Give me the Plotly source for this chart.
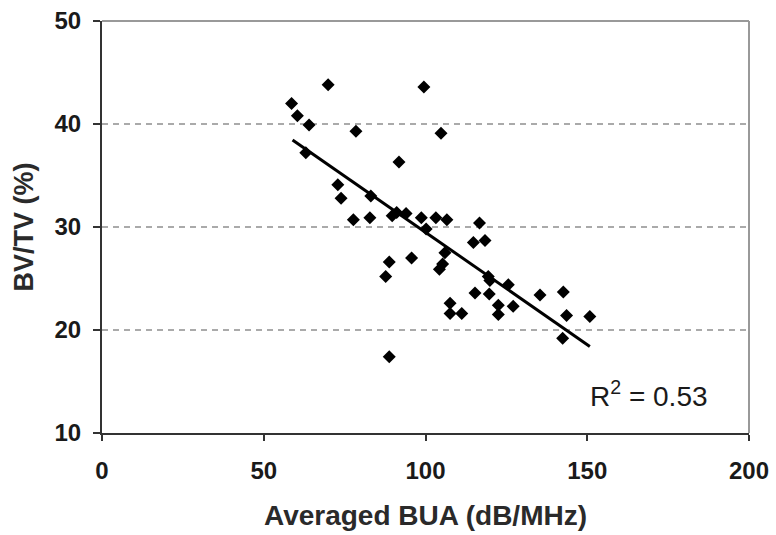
import plotly.graph_objects as go

# Data
bua = [58.6, 60.4, 64.0, 69.9, 63.0, 78.5, 72.9, 73.9, 77.7, 82.8,
       83.1, 91.8, 89.7, 91.1, 94.0, 98.7, 103.2, 106.6, 100.2, 99.5,
       104.8, 116.7, 114.8, 118.4, 106.0, 105.3, 104.3, 88.8, 95.7, 87.7,
       119.4, 119.9, 125.6, 115.3, 119.7, 135.4, 142.6, 107.6, 107.6, 111.2,
       122.5, 122.5, 127.1, 143.6, 150.8, 142.4, 88.8]
bvtv = [42.0, 40.8, 39.9, 43.8, 37.2, 39.3, 34.1, 32.8, 30.7, 30.9,
        33.0, 36.3, 31.1, 31.4, 31.3, 30.9, 30.9, 30.7, 29.8, 43.6,
        39.1, 30.4, 28.5, 28.7, 27.5, 26.4, 25.9, 26.6, 27.0, 25.2,
        25.2, 24.8, 24.4, 23.6, 23.5, 23.4, 23.7, 22.6, 21.6, 21.6,
        22.4, 21.5, 22.3, 21.4, 21.3, 19.2, 17.4]
trend_x = [58.9, 150.8]
trend_y = [38.45, 18.4]
x_ticks = [0, 50, 100, 150, 200]
y_ticks = [10, 20, 30, 40, 50]
r2_label = "R<sup>2</sup> = 0.53"

FONT = "Liberation Sans, Arial, sans-serif"

fig = go.Figure()
fig.add_trace(go.Scatter(x=bua, y=bvtv, mode="markers",
                         marker=dict(symbol="diamond", size=10, color="black",
                                     line=dict(width=0)),
                         showlegend=False))
fig.add_trace(go.Scatter(x=trend_x, y=trend_y, mode="lines",
                         line=dict(color="black", width=3), showlegend=False))

fig.update_layout(
    width=776, height=535,
    margin=dict(l=102, r=27, t=21, b=102),
    paper_bgcolor="white", plot_bgcolor="white",
    font=dict(family=FONT, color="#222"),
    xaxis=dict(range=[0, 200], tickvals=x_ticks, ticks="outside", ticklen=6,
               tickwidth=1.5, tickcolor="#333", showline=True, linecolor="#333",
               linewidth=2, showgrid=False, zeroline=False, automargin=False,
               ticklabelstandoff=9,
               tickfont=dict(size=24, family=FONT, color="#1a1a1a", weight="bold"),
               title=dict(text="Averaged BUA (dB/MHz)", standoff=23,
                          font=dict(size=28, family=FONT, color="#2a2a2a", weight="bold"))),
    yaxis=dict(range=[10, 50], tickvals=y_ticks, ticks="outside", ticklen=7,
               tickwidth=1.5, tickcolor="#333", showline=True, linecolor="#333",
               linewidth=2, showgrid=True, gridcolor="#aaa", gridwidth=1.5,
               griddash="6px,5px", zeroline=False, automargin=False,
               ticklabelstandoff=7,
               tickfont=dict(size=24, family=FONT, color="#1a1a1a", weight="bold"),
               title=dict(text="BV/TV (%)", standoff=13,
                          font=dict(size=27, family=FONT, color="#2a2a2a", weight="bold"))),
    shapes=[
        dict(type="line", xref="paper", yref="paper", x0=0, x1=1, y0=1, y1=1,
             line=dict(color="#999", width=2)),
        dict(type="line", xref="paper", yref="paper", x0=1, x1=1, y0=0, y1=1,
             line=dict(color="#999", width=2)),
    ],
    annotations=[dict(x=169, y=13.8, xref="x", yref="y", text=r2_label,
                      showarrow=False, font=dict(size=28, family=FONT, color="#1a1a1a"))],
)

fig.write_html("out.html", config={"displayModeBar": False},
               post_script="document.body.style.margin='0';document.body.style.overflow='hidden';")
